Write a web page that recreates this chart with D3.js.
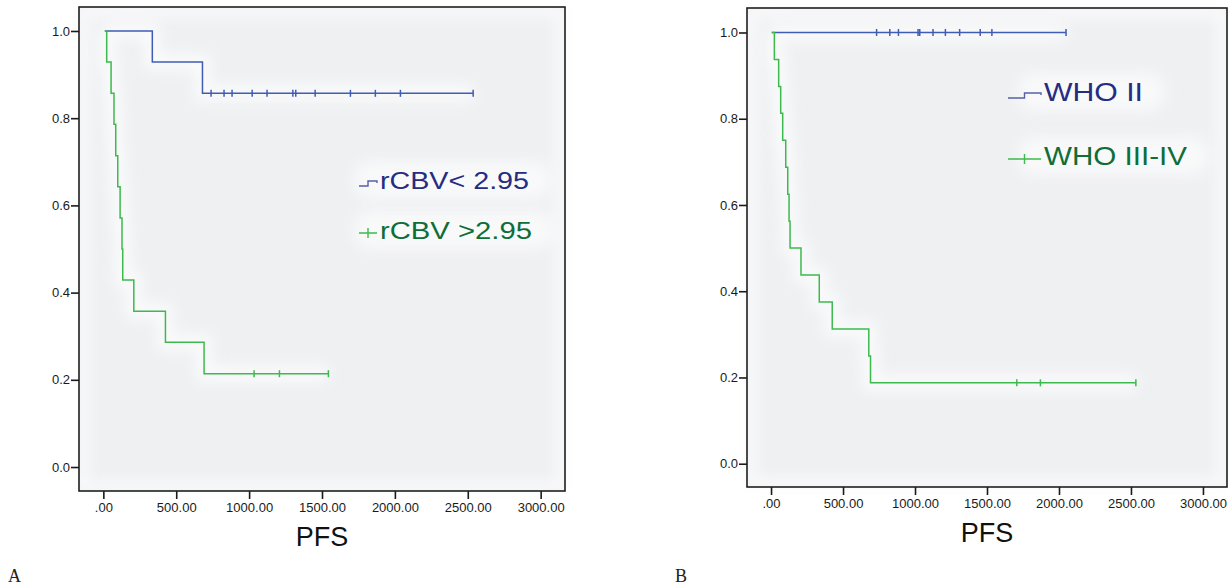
<!DOCTYPE html>
<html lang="en">
<head>
  <meta charset="UTF-8" />
  <title>PFS Kaplan-Meier curves</title>
  <style>
    body {
      margin: 0;
      background-color: white;
    }
    svg {
      display: block;
      font-family: 'Liberation Sans', Arial, sans-serif;
    }
    .tick text {
      font-size: 13px;
      fill: #1a1a1a;
    }
    .tick line {
      stroke: #1a1a1a;
      stroke-width: 1.6;
    }
  </style>
  <script src="https://d3js.org/d3.v7.min.js"></script>
</head>
<body>
  <div id="chart"></div>

  <script>
    const xTicks = [0, 500, 1000, 1500, 2000, 2500, 3000];
    const yTicks = [0, 0.2, 0.4, 0.6, 0.8, 1.0];

    // panel A: rCBV groups (step times, survival after each step, censored times)
    const aLowTimes = [10, 336, 680];
    const aLowSurv = [1.0, 0.929, 0.857];
    const aLowCensor = [739, 828, 883, 1021, 1123, 1300, 1320, 1453, 1695, 1866, 2038, 2537];
    const aHighTimes = [10, 23, 53, 73, 85, 99, 115, 128, 133, 209, 426, 691];
    const aHighSurv = [1.0, 0.929, 0.857, 0.786, 0.714, 0.643, 0.571, 0.5, 0.429, 0.357, 0.286, 0.214];
    const aHighCensor = [1034, 1208, 1544];
    const aLabels = ["rCBV< 2.95", "rCBV >2.95"];

    // panel B: WHO grade groups
    const bLowTimes = [5];
    const bLowSurv = [1.0];
    const bLowCensor = [733, 825, 885, 1021, 1033, 1125, 1211, 1310, 1453, 1534, 2049];
    const bHighTimes = [5, 23, 53, 67, 81, 102, 116, 125, 132, 208, 335, 425, 679, 691];
    const bHighSurv = [1.0, 0.9375, 0.875, 0.8125, 0.75, 0.6875, 0.625, 0.5625, 0.5, 0.4375, 0.375, 0.3125, 0.25, 0.1875];
    const bHighCensor = [1707, 1871, 2534];
    const bLabels = ["WHO II", "WHO III-IV"];

    const blue = "#3f5cb6";
    const green = "#3dba4e";
    const blueText = "#262c82";
    const greenText = "#0f6d38";

    const width = 1228;
    const height = 587;

    const svg = d3.select("#chart")
      .append("svg")
      .attr("width", width)
      .attr("height", height);

    const defs = svg.append("defs");
    defs.append("filter")
      .attr("id", "glow")
      .attr("x", "-20%").attr("y", "-50%")
      .attr("width", "140%").attr("height", "200%")
      .append("feGaussianBlur")
      .attr("stdDeviation", 7);

    function drawPanel(opts) {
      const x = d3.scaleLinear().domain([-167, 3167]).range([opts.left, opts.right]);
      const y = d3.scaleLinear().domain(opts.yDomain).range([opts.bottom, opts.top]);

      const g = svg.append("g");

      g.append("rect")
        .attr("x", opts.left).attr("y", opts.top)
        .attr("width", opts.right - opts.left)
        .attr("height", opts.bottom - opts.top)
        .attr("fill", "#eff0f2");

      // soft light border inside the frame
      g.append("rect")
        .attr("x", opts.left + 4).attr("y", opts.top + 4)
        .attr("width", opts.right - opts.left - 8)
        .attr("height", opts.bottom - opts.top - 8)
        .attr("fill", "none")
        .attr("stroke", "#fbfbfc")
        .attr("stroke-width", 10)
        .attr("filter", "url(#glow)");

      const line = d3.line()
        .x(d => x(d[0]))
        .y(d => y(d[1]))
        .curve(d3.curveStepAfter);

      const halo = g.append("g").attr("filter", "url(#glow)").attr("opacity", 0.7);
      const curves = g.append("g");

      opts.series.forEach(s => {
        const end = d3.max(s.censor.concat(s.times));
        const pts = s.times.map((t, i) => [t, s.surv[i]]);
        pts.push([end, s.surv[s.surv.length - 1]]);

        halo.append("path")
          .attr("d", line(pts))
          .attr("fill", "none")
          .attr("stroke", "#ffffff")
          .attr("stroke-width", 16);

        curves.append("path")
          .attr("d", line(pts))
          .attr("fill", "none")
          .attr("stroke", s.color)
          .attr("stroke-width", 1.5);

        const level = t => s.surv[d3.bisectRight(s.times, t) - 1];
        const marks = curves.append("g")
          .selectAll("g")
          .data(s.censor)
          .enter().append("g")
          .attr("transform", t => `translate(${x(t)},${y(level(t))})`);
        marks.append("line")
          .attr("y1", -3.5).attr("y2", 3.5)
          .attr("stroke", s.color)
          .attr("stroke-width", 1.5);
      });

      // legend
      const leg = g.append("g");
      opts.series.forEach((s, i) => {
        const ly = opts.legendY[i];
        const lx = opts.legendX;
        leg.append("rect")
          .attr("x", lx - 26).attr("y", ly - 28)
          .attr("width", opts.legendW[i] + 48).attr("height", 38)
          .attr("rx", 16)
          .attr("fill", "#ffffff")
          .attr("opacity", 0.6)
          .attr("filter", "url(#glow)");
      });
      opts.series.forEach((s, i) => {
        const ly = opts.legendY[i];
        const lx = opts.legendX;
        const iw = opts.iconW;
        if (i === 0) {
          leg.append("path")
            .attr("d", `M${lx - iw - 3},${ly - 3} h${iw / 2} v-5 h${iw / 2} v2`)
            .attr("fill", "none")
            .attr("stroke", "#5560a8")
            .attr("stroke-width", 1.4);
        } else {
          leg.append("path")
            .attr("d", `M${lx - iw - 3},${ly - 6} h${iw} M${lx - 3 - iw / 2},${ly - 11} v10`)
            .attr("fill", "none")
            .attr("stroke", green)
            .attr("stroke-width", 1.4);
        }
        leg.append("text")
          .attr("x", lx)
          .attr("y", ly)
          .attr("font-size", opts.legendFont)
          .attr("textLength", opts.legendW[i])
          .attr("lengthAdjust", "spacingAndGlyphs")
          .attr("fill", s.textColor)
          .text(s.label);
      });

      const yAxis = d3.axisLeft(y)
        .tickValues(yTicks)
        .tickSize(8)
        .tickPadding(1)
        .tickFormat(d3.format(".1f"));
      g.append("g")
        .attr("transform", `translate(${opts.left},0)`)
        .call(yAxis)
        .call(a => a.select(".domain").remove());

      const xAxis = d3.axisBottom(x)
        .tickValues(xTicks)
        .tickSize(8)
        .tickPadding(4)
        .tickFormat(d => d === 0 ? ".00" : d3.format(".2f")(d));
      g.append("g")
        .attr("transform", `translate(0,${opts.bottom})`)
        .call(xAxis)
        .call(a => a.select(".domain").remove());

      g.append("rect")
        .attr("x", opts.left).attr("y", opts.top)
        .attr("width", opts.right - opts.left)
        .attr("height", opts.bottom - opts.top)
        .attr("fill", "none")
        .attr("stroke", "#1e1e1e")
        .attr("stroke-width", 1.6);

      g.append("text")
        .attr("x", (opts.left + opts.right) / 2)
        .attr("y", opts.bottom + 55)
        .attr("text-anchor", "middle")
        .attr("font-size", 27)
        .attr("fill", "#111")
        .text("PFS");

      g.append("text")
        .attr("x", opts.letterX)
        .attr("y", 582)
        .attr("font-family", "'Liberation Serif', 'Times New Roman', serif")
        .attr("font-size", 18)
        .attr("fill", "#222")
        .text(opts.letter);
    }

    drawPanel({
      left: 79, right: 565, top: 7, bottom: 491,
      yDomain: [-0.055, 1.055],
      letter: "A", letterX: 8,
      legendX: 380, legendY: [189, 239], legendW: [149, 152], legendFont: 24, iconW: 18,
      series: [
        {times: aLowTimes, surv: aLowSurv, censor: aLowCensor, color: blue, textColor: blueText, label: aLabels[0]},
        {times: aHighTimes, surv: aHighSurv, censor: aHighCensor, color: green, textColor: greenText, label: aLabels[1]}
      ]
    });

    drawPanel({
      left: 747, right: 1227, top: 8, bottom: 487,
      yDomain: [-0.054, 1.0568],
      letter: "B", letterX: 675,
      legendX: 1044, legendY: [101, 165], legendW: [99, 143], legendFont: 25, iconW: 33,
      series: [
        {times: bLowTimes, surv: bLowSurv, censor: bLowCensor, color: blue, textColor: blueText, label: bLabels[0]},
        {times: bHighTimes, surv: bHighSurv, censor: bHighCensor, color: green, textColor: greenText, label: bLabels[1]}
      ]
    });
  </script>
</body>
</html>
